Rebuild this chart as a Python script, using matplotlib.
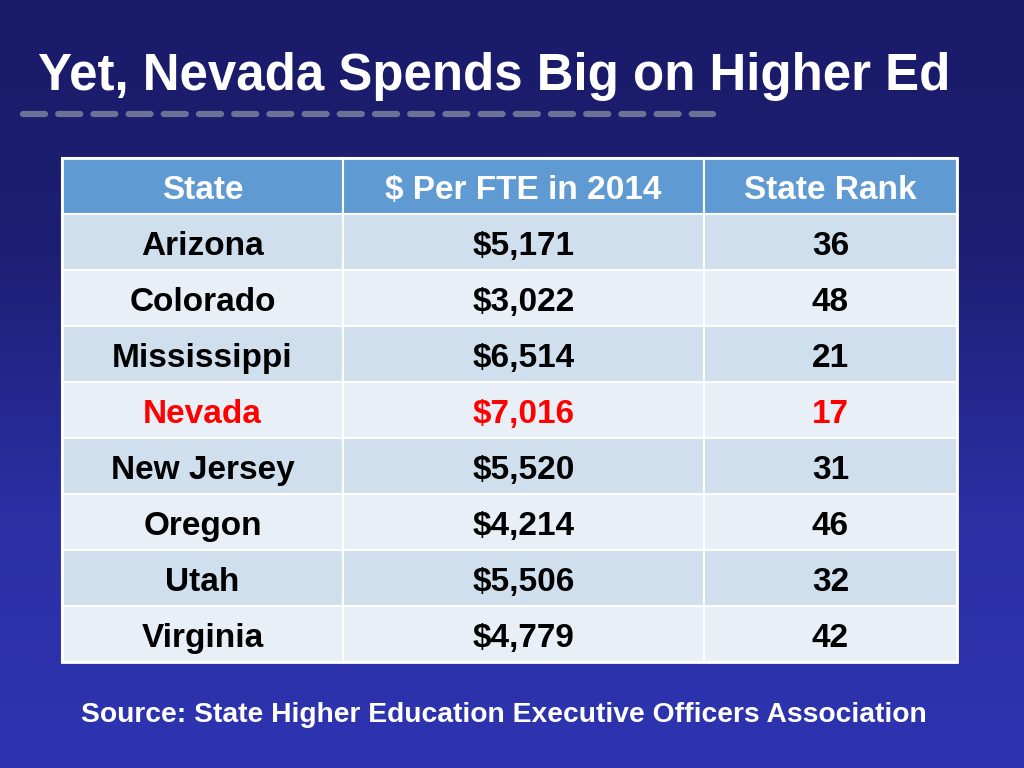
import numpy as np
import matplotlib
matplotlib.use("Agg")
import matplotlib.pyplot as plt
from matplotlib.patches import Rectangle
from matplotlib.colors import LinearSegmentedColormap

title = "Yet, Nevada Spends Big on Higher Ed"
headers = ["State", "$ Per FTE in 2014", "State Rank"]
states = ["Arizona", "Colorado", "Mississippi", "Nevada", "New Jersey", "Oregon", "Utah", "Virginia"]
spend = [5171, 3022, 6514, 7016, 5520, 4214, 5506, 4779]
ranks = [36, 48, 21, 17, 31, 46, 32, 42]
highlight = "Nevada"
source = "Source: State Higher Education Executive Officers Association"

W, H = 1024, 768
fig = plt.figure(figsize=(10.24, 7.68), dpi=100)
ax = fig.add_axes([0, 0, 1, 1])
ax.set_xlim(0, W)
ax.set_ylim(H, 0)
ax.axis("off")

# background gradient
cmap = LinearSegmentedColormap.from_list("bg", ["#1a1b68", "#1d1f74", "#2a2fa4", "#2e34b0"])
grad = np.linspace(0, 1, 256).reshape(-1, 1)
ax.imshow(grad, cmap=cmap, extent=[0, W, H, 0], aspect="auto", zorder=0)

ax.text(38, 90, title, fontsize=36.7, family="Liberation Sans", weight="bold",
        color="white", ha="left", va="baseline", zorder=3)

# dashed underline
lw = 4.5
px_per_unit = lw * 100 / 72
on_px, off_px = 22.0, 13.2
ax.plot([23, 713], [114, 114], color="#6c7198", lw=lw, solid_capstyle="round",
        dash_capstyle="round", linestyle=(0, (on_px / px_per_unit, off_px / px_per_unit)),
        zorder=3)

# table
x_edges = [62, 343, 704, 957]
top, hdr_h, row_h = 158, 56, 56
base_off = 13  # baseline offset below the row centre
body_font = dict(family="Liberation Sans", weight="bold", fontsize=24)

for j, h in enumerate(headers):
    ax.add_patch(Rectangle((x_edges[j], top), x_edges[j + 1] - x_edges[j], hdr_h,
                           facecolor="#5f9bd2", edgecolor="white", lw=1.5, zorder=2))
    ax.text((x_edges[j] + x_edges[j + 1]) / 2, top + hdr_h / 2 + base_off, h, color="white",
            ha="center", va="baseline", zorder=3, **body_font)

for i, (s, v, r) in enumerate(zip(states, spend, ranks)):
    y0 = top + hdr_h + i * row_h
    fc = "#d0dfed" if i % 2 == 0 else "#e9eff7"
    col = "#ff0000" if s == highlight else "black"
    vals = [s, f"${v:,}", str(r)]
    for j, t in enumerate(vals):
        ax.add_patch(Rectangle((x_edges[j], y0), x_edges[j + 1] - x_edges[j], row_h,
                               facecolor=fc, edgecolor="white", lw=1.5, zorder=2))
        ax.text((x_edges[j] + x_edges[j + 1]) / 2, y0 + row_h / 2 + base_off, t, color=col,
                ha="center", va="baseline", zorder=3, **body_font)

ax.add_patch(Rectangle((x_edges[0], top), x_edges[-1] - x_edges[0],
                       hdr_h + row_h * len(states), facecolor="none",
                       edgecolor="white", lw=2, zorder=4))

ax.text(504, 722, source, color="white", ha="center", va="baseline",
        family="Liberation Sans", weight="bold", fontsize=20.3, zorder=3)

fig.savefig("out.png", dpi=100)
